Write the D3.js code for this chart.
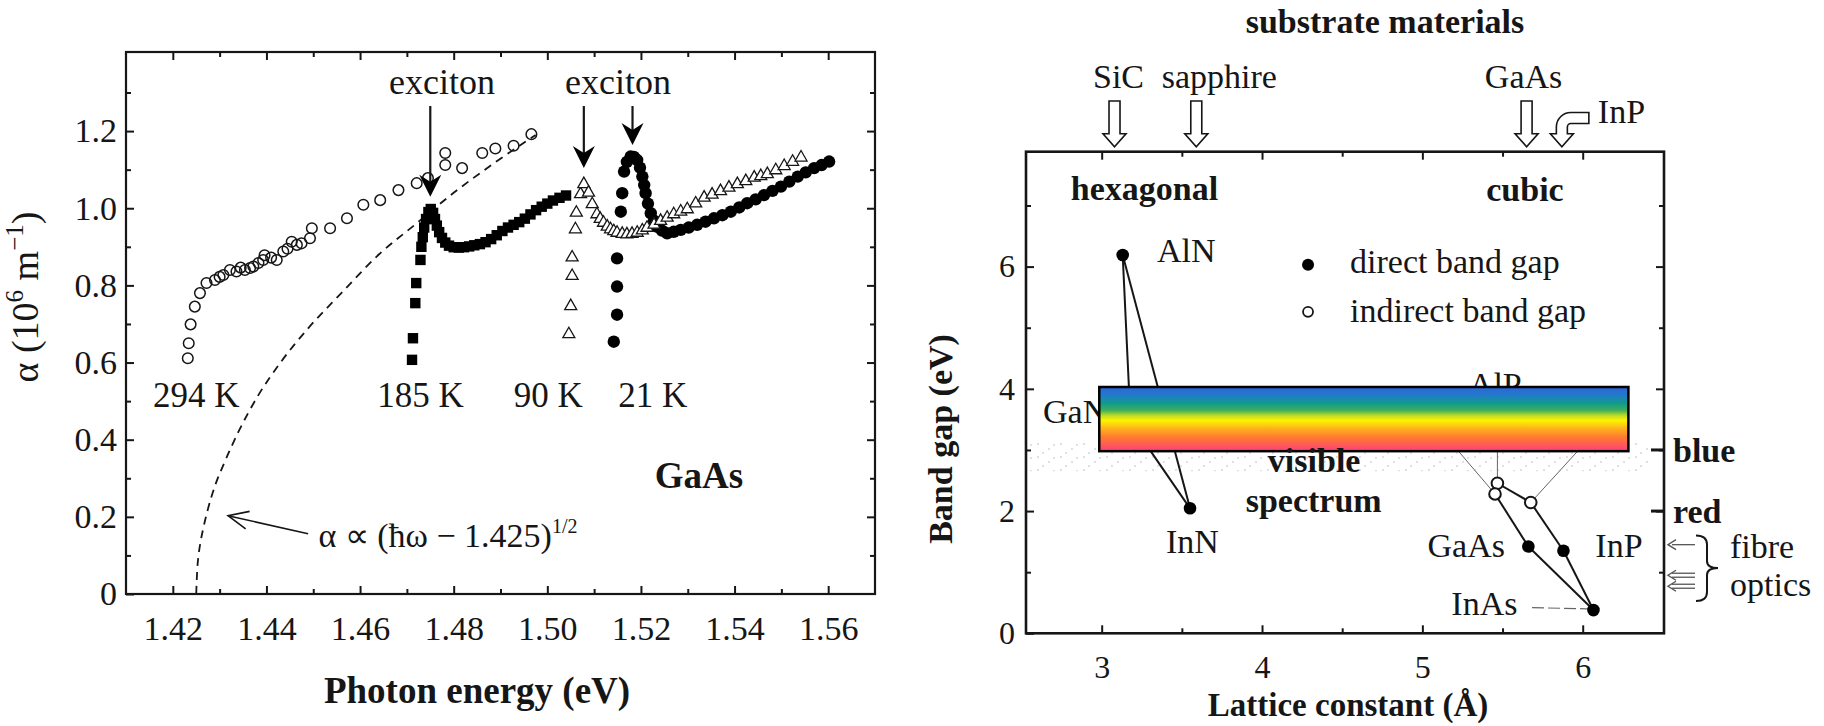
<!DOCTYPE html>
<html>
<head>
<meta charset="utf-8">
<title>GaAs absorption edge and band gap vs lattice constant</title>
<script src="https://cdn.jsdelivr.net/npm/d3@7/dist/d3.min.js"></script>
<style>
  body { margin: 0; background: #fff; }
  svg text { font-family: "Liberation Serif", "Times New Roman", serif; fill: #161616; }
</style>
</head>
<body>
<svg id="fig" width="1824" height="726"></svg>
<script>
'use strict';

/* ---- left panel: absorption of GaAs, [photon energy (eV), alpha (10^6 m^-1)] ---- */
var t294 = [
  [1.4232,0.611],[1.4234,0.650],[1.4238,0.699],[1.4247,0.745],[1.4258,0.780],
  [1.4272,0.806],[1.4290,0.814],[1.4300,0.822],[1.4308,0.827],[1.4322,0.840],
  [1.4336,0.836],[1.4345,0.846],[1.4354,0.840],[1.4365,0.845],[1.4372,0.849],
  [1.4383,0.858],[1.4393,0.866],[1.4396,0.878],[1.4410,0.872],[1.4422,0.866],
  [1.4436,0.888],[1.4445,0.895],[1.4454,0.913],[1.4465,0.905],[1.4475,0.909],
  [1.4493,0.922],[1.4497,0.948],[1.4536,0.948],[1.4572,0.974],[1.4607,1.009],
  [1.4643,1.021],[1.4682,1.047],[1.4721,1.065],[1.4745,1.078],[1.4782,1.143],
  [1.4782,1.112],[1.4818,1.104],[1.4861,1.143],[1.4889,1.155],[1.4928,1.162],
  [1.4966,1.192]
];
var t185 = [
  [1.4711,0.607],[1.4713,0.663],[1.4718,0.754],[1.4720,0.806],[1.4729,0.866],
  [1.4731,0.900],[1.4734,0.925],[1.4737,0.950],[1.4741,0.972],[1.4746,0.990],
  [1.4751,0.998],[1.4756,0.988],[1.4760,0.972],[1.4764,0.955],[1.4769,0.938],
  [1.4775,0.923],[1.4782,0.911],[1.4790,0.903],[1.4800,0.899],[1.4811,0.898],
  [1.4822,0.899],[1.4833,0.901],[1.4844,0.904],[1.4856,0.907],[1.4868,0.912],
  [1.4880,0.920],[1.4892,0.930],[1.4904,0.941],[1.4916,0.950],[1.4928,0.957],
  [1.4940,0.964],[1.4952,0.973],[1.4964,0.984],[1.4976,0.995],[1.4988,1.004],
  [1.5000,1.012],[1.5012,1.020],[1.5026,1.027],[1.5040,1.033]
];
var t90 = [
  [1.5046,0.676],[1.5050,0.749],[1.5053,0.827],[1.5053,0.875],[1.5060,0.948],
  [1.5062,0.991],[1.5071,1.039],[1.5078,1.065],[1.5088,1.043],[1.5096,1.013],
  [1.5106,0.987],[1.5113,0.975],[1.5120,0.965],[1.5128,0.955],[1.5135,0.948],
  [1.5142,0.943],[1.5149,0.939],[1.5160,0.936],[1.5170,0.935],[1.5181,0.936],
  [1.5192,0.939],[1.5203,0.945],[1.5213,0.952],[1.5228,0.960],[1.5242,0.970],
  [1.5256,0.978],[1.5270,0.987],[1.5285,0.994],[1.5299,1.000],[1.5317,1.015],
  [1.5335,1.030],[1.5352,1.038],[1.5370,1.047],[1.5388,1.056],[1.5406,1.065],
  [1.5424,1.073],[1.5442,1.082],[1.5456,1.086],[1.5470,1.091],[1.5488,1.101],
  [1.5506,1.112],[1.5524,1.123],[1.5542,1.134]
];
var t21 = [
  [1.5142,0.654],[1.5149,0.724],[1.5149,0.797],[1.5149,0.870],[1.5157,0.991],
  [1.5160,1.039],[1.5164,1.095],[1.5170,1.120],[1.5178,1.134],[1.5185,1.133],
  [1.5192,1.125],[1.5198,1.105],[1.5203,1.082],[1.5207,1.060],[1.5210,1.039],
  [1.5215,1.012],[1.5221,0.987],[1.5228,0.968],[1.5235,0.952],[1.5245,0.942],
  [1.5256,0.935],[1.5270,0.939],[1.5285,0.944],[1.5302,0.950],[1.5320,0.957],
  [1.5338,0.965],[1.5356,0.974],[1.5374,0.982],[1.5392,0.991],[1.5410,1.002],
  [1.5427,1.013],[1.5445,1.023],[1.5463,1.034],[1.5481,1.045],[1.5499,1.056],
  [1.5517,1.069],[1.5535,1.082],[1.5552,1.093],[1.5570,1.104],[1.5586,1.112],
  [1.5602,1.121]
];
// dashed square-root law
var sqrtLaw = [
  [1.4250,0.00],[1.4252,0.06],[1.4255,0.10],[1.4260,0.14],[1.4265,0.17],
  [1.4275,0.22],[1.4290,0.28],[1.4310,0.34],[1.4340,0.42],[1.4380,0.51],
  [1.4430,0.60],[1.4490,0.69],[1.4560,0.78],[1.4640,0.88],[1.4720,0.96],
  [1.4800,1.04],[1.4890,1.12],[1.4975,1.19]
];
var energyTicks = [1.42, 1.44, 1.46, 1.48, 1.50, 1.52, 1.54, 1.56];
var energyMinor = [1.43, 1.45, 1.47, 1.49, 1.51, 1.53, 1.55];
var alphaTicks = [0, 0.2, 0.4, 0.6, 0.8, 1.0, 1.2];
var alphaMinor = [0.1, 0.3, 0.5, 0.7, 0.9, 1.1, 1.3];
var tempLabels = [["294 K", 1.4250], ["185 K", 1.4729], ["90 K", 1.5002], ["21 K", 1.5225]];
var excitonArrows = [[1.4750, 1.030], [1.5078, 1.104], [1.5182, 1.164]];
var excitonLabels = [1.4775, 1.5151];

/* ---- right panel: band gap (eV) vs lattice constant (A) ---- */
var direct = [
  {name: "AlN", a: 3.131, eg: 6.19},
  {name: "GaN", a: 3.180, eg: 3.46},
  {name: "InN", a: 3.551, eg: 2.045},
  {name: "GaAs", a: 5.661, eg: 1.42},
  {name: "InP", a: 5.880, eg: 1.35},
  {name: "InAs", a: 6.067, eg: 0.38}
];
var indirect = [
  {name: "AlP", a: 5.468, eg: 2.455},
  {name: "GaP", a: 5.453, eg: 2.28},
  {name: "AlAs", a: 5.676, eg: 2.14}
];
var bonds = [["AlN","GaN"],["AlN","InN"],["GaN","InN"],["AlP","AlAs"],["GaP","GaAs"],
             ["AlAs","InP"],["GaAs","InAs"],["InP","InAs"]];
var latticeTicks = [3, 4, 5, 6];
var latticeMinor = [3.5, 4.5, 5.5];
var gapTicks = [0, 2, 4, 6];
var gapMinor = [1, 3, 5, 7];
var substrates = [["SiC", 3.08, 4], ["sapphire", 3.59, 23], ["GaAs", 5.65, -3]];
var fibreWindows = [1.45, 0.95, 0.77];

var svg = d3.select("#fig");
var ink = "#161616";
var serif = '"Liberation Serif", "Times New Roman", serif';

// box with inward ticks on all four sides, labels only bottom + left
function frameAxes(g, x, y, o) {
  var yB = y.range()[0], yT = y.range()[1], xL = x.range()[0], xR = x.range()[1];
  var sides = [
    {make: d3.axisBottom, s: x, at: "translate(0," + yB + ")", maj: o.xMajor, min: o.xMinor, fmt: o.xFmt, pad: o.xPad},
    {make: d3.axisTop, s: x, at: "translate(0," + yT + ")", maj: o.xMajor, min: o.xMinor},
    {make: d3.axisLeft, s: y, at: "translate(" + xL + ",0)", maj: o.yMajor, min: o.yMinor, fmt: o.yFmt, pad: o.yPad},
    {make: d3.axisRight, s: y, at: "translate(" + xR + ",0)", maj: o.yMajor.filter(function(v){ return v > 0; }), min: o.yMinor}
  ];
  sides.forEach(function(sd) {
    var blank = function() { return ""; };
    var gMaj = g.append("g").attr("transform", sd.at)
      .call(sd.make(sd.s).tickValues(sd.maj).tickSize(-o.big).tickPadding(sd.pad || 0).tickFormat(sd.fmt || blank));
    var gMin = g.append("g").attr("transform", sd.at)
      .call(sd.make(sd.s).tickValues(sd.min).tickSize(-o.small).tickFormat(blank));
    [gMaj, gMin].forEach(function(a) {
      a.attr("font-family", serif);
      a.select(".domain").remove();
      a.selectAll("line").attr("stroke", ink).attr("stroke-width", o.tw);
    });
    gMaj.selectAll("text").attr("font-family", serif).attr("font-size", o.fs).attr("fill", ink);
  });
  g.append("rect").attr("x", xL).attr("y", yT).attr("width", xR - xL).attr("height", yB - yT)
    .attr("fill", "none").attr("stroke", ink).attr("stroke-width", o.fw);
}

/* ================= left panel ================= */
var x1 = d3.scaleLinear().domain([1.41, 1.57]).range([126, 875]);
var y1 = d3.scaleLinear().domain([0, 1.405]).range([594, 52]);
var L = svg.append("g");

frameAxes(L, x1, y1, {
  xMajor: energyTicks, xMinor: energyMinor, yMajor: alphaTicks, yMinor: alphaMinor,
  xFmt: d3.format(".2f"), yFmt: function(d){ return d === 0 ? "0" : d3.format(".1f")(d); },
  xPad: 22, yPad: 9, big: 8, small: 5, tw: 2, fw: 2.2, fs: 34
});

L.append("path").datum(sqrtLaw)
  .attr("d", d3.line().x(function(d){ return x1(d[0]); }).y(function(d){ return y1(d[1]); }).curve(d3.curveMonotoneX))
  .attr("fill", "none").attr("stroke", ink).attr("stroke-width", 1.8).attr("stroke-dasharray", "8,6");

L.selectAll("circle.t294").data(t294).enter().append("circle").attr("class", "t294")
  .attr("cx", function(d){ return x1(d[0]); }).attr("cy", function(d){ return y1(d[1]); })
  .attr("r", 5.3).attr("fill", "none").attr("stroke", ink).attr("stroke-width", 1.5);

L.selectAll("rect.t185").data(t185).enter().append("rect").attr("class", "t185")
  .attr("x", function(d){ return x1(d[0]) - 5.2; }).attr("y", function(d){ return y1(d[1]) - 5.2; })
  .attr("width", 10.4).attr("height", 10.4).attr("fill", "#000");

L.selectAll("circle.t21").data(t21).enter().append("circle").attr("class", "t21")
  .attr("cx", function(d){ return x1(d[0]); }).attr("cy", function(d){ return y1(d[1]); })
  .attr("r", 6.2).attr("fill", "#000");

L.selectAll("path.t90").data(t90).enter().append("path").attr("class", "t90")
  .attr("transform", function(d){ return "translate(" + x1(d[0]) + "," + y1(d[1]) + ")"; })
  .attr("d", "M0,-6L6,4.5L-6,4.5Z")
  .attr("fill", "#fff").attr("stroke", ink).attr("stroke-width", 1.3);

// exciton arrows
excitonArrows.forEach(function(d) {
  var ax = x1(d[0]), tip = y1(d[1]), top = y1(1.265);
  L.append("line").attr("x1", ax).attr("x2", ax).attr("y1", top).attr("y2", tip - 14)
    .attr("stroke", ink).attr("stroke-width", 2.2);
  L.append("path")
    .attr("d", "M" + ax + "," + tip + "L" + (ax - 11) + "," + (tip - 22) + "L" + ax + "," + (tip - 15) +
               "L" + (ax + 11) + "," + (tip - 22) + "Z")
    .attr("fill", "#000");
});
excitonLabels.forEach(function(e) {
  L.append("text").attr("x", x1(e)).attr("y", y1(1.296)).attr("text-anchor", "middle")
    .attr("font-size", 36).text("exciton");
});
tempLabels.forEach(function(d) {
  L.append("text").attr("x", x1(d[1])).attr("y", y1(0.485)).attr("text-anchor", "middle")
    .attr("font-size", 35).text(d[0]);
});
L.append("text").attr("x", x1(1.5324)).attr("y", y1(0.275)).attr("text-anchor", "middle")
  .attr("font-size", 37).attr("font-weight", "bold").text("GaAs");

// formula and its arrow
var fx = L.append("text").attr("x", x1(1.4511)).attr("y", y1(0.1225)).attr("font-size", 34);
fx.append("tspan").text("\u03b1 \u221d (\u0127\u03c9 \u2212 1.425)");
fx.append("tspan").attr("font-size", 20).attr("dy", -14).text("1/2");
(function() {
  var x0 = x1(1.4489), y0 = y1(0.156), xt = x1(1.4318), yt = y1(0.203);
  var ang = Math.atan2(y0 - yt, x0 - xt), h = 22, spread = 0.42;
  L.append("line").attr("x1", x0).attr("y1", y0).attr("x2", xt).attr("y2", yt)
    .attr("stroke", ink).attr("stroke-width", 1.6);
  L.append("path")
    .attr("d", "M" + (xt + h * Math.cos(ang - spread)) + "," + (yt + h * Math.sin(ang - spread)) +
               "L" + xt + "," + yt +
               "L" + (xt + h * Math.cos(ang + spread)) + "," + (yt + h * Math.sin(ang + spread)))
    .attr("fill", "none").attr("stroke", ink).attr("stroke-width", 1.6);
})();

// axis titles
var yl = L.append("text").attr("transform", "translate(38,297) rotate(-90)")
  .attr("text-anchor", "middle").attr("font-family", serif).attr("font-size", 38);
yl.append("tspan").text("\u03b1 (10");
yl.append("tspan").attr("font-size", 25).attr("dy", -15).text("6");
yl.append("tspan").attr("dy", 15).text(" m");
yl.append("tspan").attr("font-size", 25).attr("dy", -15).text("\u22121");
yl.append("tspan").attr("dy", 15).text(")");
L.append("text").attr("x", 477).attr("y", 703).attr("text-anchor", "middle")
  .attr("font-size", 37).attr("font-weight", "bold").text("Photon energy (eV)");

/* ================= right panel ================= */
var x2 = d3.scaleLinear().domain([2.528, 6.507]).range([1026, 1664]);
var y2 = d3.scaleLinear().domain([0, 7.88]).range([633.3, 151.7]);
var R = svg.append("g");

// faint stippled "visible" band from the scan
var defs = svg.append("defs");
var pat = defs.append("pattern").attr("id", "stipple").attr("patternUnits", "userSpaceOnUse")
  .attr("width", 23).attr("height", 13);
[[3, 2], [14, 7], [8, 11], [19, 3]].forEach(function(p) {
  pat.append("circle").attr("cx", p[0]).attr("cy", p[1]).attr("r", 0.9).attr("fill", "#d2d2d2");
});
R.append("rect").attr("x", x2(2.53)).attr("y", y2(3.12)).attr("width", x2(6.42) - x2(2.53))
  .attr("height", y2(2.65) - y2(3.12)).attr("fill", "url(#stipple)");

frameAxes(R, x2, y2, {
  xMajor: latticeTicks, xMinor: latticeMinor, yMajor: gapTicks, yMinor: gapMinor,
  xFmt: d3.format("d"), yFmt: d3.format("d"),
  xPad: 22, yPad: 11, big: 8, small: 5, tw: 2, fw: 2.6, fs: 32
});

var byName = {};
direct.concat(indirect).forEach(function(d){ byName[d.name] = d; });

// labels that sit partly behind the spectrum bar
var hiddenLabels = [["GaN", 2.634, 3.44, "start"], ["AlP", 5.455, 3.88, "middle"],
                    ["AlAs", 6.20, 3.49, "end"], ["GaP", 5.07, 3.49, "end"]];
hiddenLabels.forEach(function(d) {
  R.append("text").attr("x", x2(d[1])).attr("y", y2(d[2])).attr("text-anchor", d[3])
    .attr("font-size", 34).text(d[0]);
});
var leaders = [[5.468, 2.455, 5.468, 3.80], [5.453, 2.28, 5.085, 3.41], [5.676, 2.14, 6.118, 3.41]];
leaders.forEach(function(d) {
  R.append("line").attr("x1", x2(d[0])).attr("y1", y2(d[1])).attr("x2", x2(d[2])).attr("y2", y2(d[3]))
    .attr("stroke", "#666").attr("stroke-width", 1);
});
R.append("line").attr("x1", x2(5.684)).attr("y1", y2(0.42)).attr("x2", x2(6.03)).attr("y2", y2(0.40))
  .attr("stroke", "#666").attr("stroke-width", 1.2).attr("stroke-dasharray", "12,4");

R.selectAll("line.bond").data(bonds).enter().append("line").attr("class", "bond")
  .attr("x1", function(d){ return x2(byName[d[0]].a); }).attr("y1", function(d){ return y2(byName[d[0]].eg); })
  .attr("x2", function(d){ return x2(byName[d[1]].a); }).attr("y2", function(d){ return y2(byName[d[1]].eg); })
  .attr("stroke", ink).attr("stroke-width", 2);

R.selectAll("circle.dir").data(direct).enter().append("circle").attr("class", "dir")
  .attr("cx", function(d){ return x2(d.a); }).attr("cy", function(d){ return y2(d.eg); })
  .attr("r", 6.3).attr("fill", "#000");
R.selectAll("circle.ind").data(indirect).enter().append("circle").attr("class", "ind")
  .attr("cx", function(d){ return x2(d.a); }).attr("cy", function(d){ return y2(d.eg); })
  .attr("r", 5.8).attr("fill", "#fff").attr("stroke", ink).attr("stroke-width", 2);

// spectrum bar
var grad = defs.append("linearGradient").attr("id", "spectrum")
  .attr("x1", 0).attr("y1", 0).attr("x2", 0).attr("y2", 1);
[[0, "#2b66da"], [0.12, "#2379cc"], [0.25, "#0f9a8e"], [0.36, "#3dae5a"], [0.45, "#c6dc22"],
 [0.52, "#fbf500"], [0.64, "#ffb41c"], [0.78, "#ff7b30"], [0.9, "#ff5a58"], [1, "#ff3d7e"]].forEach(function(s) {
  grad.append("stop").attr("offset", s[0]).attr("stop-color", s[1]);
});
R.append("rect").attr("x", x2(2.985)).attr("y", y2(4.03))
  .attr("width", x2(6.285) - x2(2.985)).attr("height", y2(2.98) - y2(4.03))
  .attr("fill", "url(#spectrum)").attr("stroke", "#000").attr("stroke-width", 2.5);

// point labels
var pointLabels = [["AlN", 3.345, 6.075, "start"], ["InN", 3.566, 1.314, "middle"],
                   ["GaAs", 5.515, 1.25, "end"], ["InP", 6.079, 1.25, "start"], ["InAs", 5.593, 0.30, "end"]];
pointLabels.forEach(function(d) {
  R.append("text").attr("x", x2(d[1])).attr("y", y2(d[2])).attr("text-anchor", d[3])
    .attr("font-size", 34).text(d[0]);
});
[["hexagonal", 3.267, 7.09], ["cubic", 5.64, 7.07], ["visible", 4.325, 2.64], ["spectrum", 4.322, 1.99]]
  .forEach(function(d) {
    R.append("text").attr("x", x2(d[1])).attr("y", y2(d[2])).attr("text-anchor", "middle")
      .attr("font-size", 34).attr("font-weight", "bold").text(d[0]);
  });

// legend
R.append("circle").attr("cx", x2(4.287)).attr("cy", y2(6.03)).attr("r", 6).attr("fill", "#000");
R.append("circle").attr("cx", x2(4.287)).attr("cy", y2(5.26)).attr("r", 5)
  .attr("fill", "#fff").attr("stroke", ink).attr("stroke-width", 1.8);
R.append("text").attr("x", x2(4.549)).attr("y", y2(5.895)).attr("font-size", 34).text("direct band gap");
R.append("text").attr("x", x2(4.549)).attr("y", y2(5.098)).attr("font-size", 34).text("indirect band gap");

// substrate arrows
R.append("text").attr("x", 1385).attr("y", 33).attr("text-anchor", "middle")
  .attr("font-size", 34).attr("font-weight", "bold").text("substrate materials");
var tipY = y2.range()[1] - 5, w = 5.5, hw = 11.5, hh = 13;
substrates.forEach(function(d) {
  var cx = x2(d[1]), top = 101;
  R.append("path")
    .attr("d", "M" + (cx - w) + "," + top + "H" + (cx + w) + "V" + (tipY - hh) + "H" + (cx + hw) +
               "L" + cx + "," + tipY + "L" + (cx - hw) + "," + (tipY - hh) + "H" + (cx - w) + "Z")
    .attr("fill", "#fff").attr("stroke", ink).attr("stroke-width", 1.6);
  R.append("text").attr("x", cx + d[2]).attr("y", 88).attr("text-anchor", "middle")
    .attr("font-size", 34).text(d[0]);
});
(function() {
  var cx = x2(5.87), yT = 118, rr = 9, tail = cx + 27;
  R.append("path")
    .attr("d", "M" + tail + "," + (yT - w) + "H" + (cx + rr) +
               "A" + (rr + w) + "," + (rr + w) + " 0 0 0 " + (cx - w) + "," + (yT + rr) +
               "V" + (tipY - hh) + "H" + (cx - hw) + "L" + cx + "," + tipY + "L" + (cx + hw) + "," + (tipY - hh) +
               "H" + (cx + w) + "V" + (yT + rr) +
               "A" + (rr - w) + "," + (rr - w) + " 0 0 1 " + (cx + rr) + "," + (yT + w) +
               "H" + tail + "Z")
    .attr("fill", "#fff").attr("stroke", ink).attr("stroke-width", 1.6);
  R.append("text").attr("x", cx + 36).attr("y", 123).attr("font-size", 34).text("InP");
})();

// right-hand colour marks and fibre windows
var xr = x2.range()[1];
[[3, "blue"], [2, "red"]].forEach(function(d) {
  R.append("line").attr("x1", xr - 13).attr("x2", xr).attr("y1", y2(d[0])).attr("y2", y2(d[0]))
    .attr("stroke", ink).attr("stroke-width", 3);
  R.append("text").attr("x", xr + 9).attr("y", y2(d[0])).attr("dy", "0.35em")
    .attr("font-size", 34).attr("font-weight", "bold").text(d[1]);
});
fibreWindows.forEach(function(e, i) {
  var yy = y2(e), xs = xr + 4, xe = xr + 31;
  var offs = i === 0 ? [0] : [-2, 2];
  offs.forEach(function(o) {
    R.append("line").attr("x1", xs + 4).attr("x2", xe).attr("y1", yy + o).attr("y2", yy + o)
      .attr("stroke", "#555").attr("stroke-width", 1.3);
  });
  R.append("path").attr("d", "M" + (xs + 8) + "," + (yy - 5) + "L" + xs + "," + yy + "L" + (xs + 8) + "," + (yy + 5))
    .attr("fill", "none").attr("stroke", "#555").attr("stroke-width", 1.4);
});
(function() {
  var bx = xr + 38, yTop = y2(1.6), yBot = y2(0.53), yMid = y2(1.07);
  R.append("path")
    .attr("d", "M" + (bx - 6) + "," + yTop + "Q" + (bx + 5) + "," + yTop + " " + (bx + 5) + "," + (yTop + 9) +
               "V" + (yMid - 7) + "Q" + (bx + 5) + "," + yMid + " " + (bx + 16) + "," + yMid +
               "Q" + (bx + 5) + "," + yMid + " " + (bx + 5) + "," + (yMid + 7) +
               "V" + (yBot - 9) + "Q" + (bx + 5) + "," + yBot + " " + (bx - 6) + "," + yBot)
    .attr("fill", "none").attr("stroke", ink).attr("stroke-width", 2);
})();
R.append("text").attr("x", xr + 66).attr("y", 558).attr("font-size", 34).text("fibre");
R.append("text").attr("x", xr + 66).attr("y", 596).attr("font-size", 34).text("optics");

// axis titles
R.append("text").attr("transform", "translate(952,439) rotate(-90)").attr("text-anchor", "middle")
  .attr("font-size", 34).attr("font-weight", "bold").text("Band gap (eV)");
R.append("text").attr("x", 1348).attr("y", 716).attr("text-anchor", "middle")
  .attr("font-size", 33).attr("font-weight", "bold").text("Lattice constant (\u00c5)");
</script>
</body>
</html>
